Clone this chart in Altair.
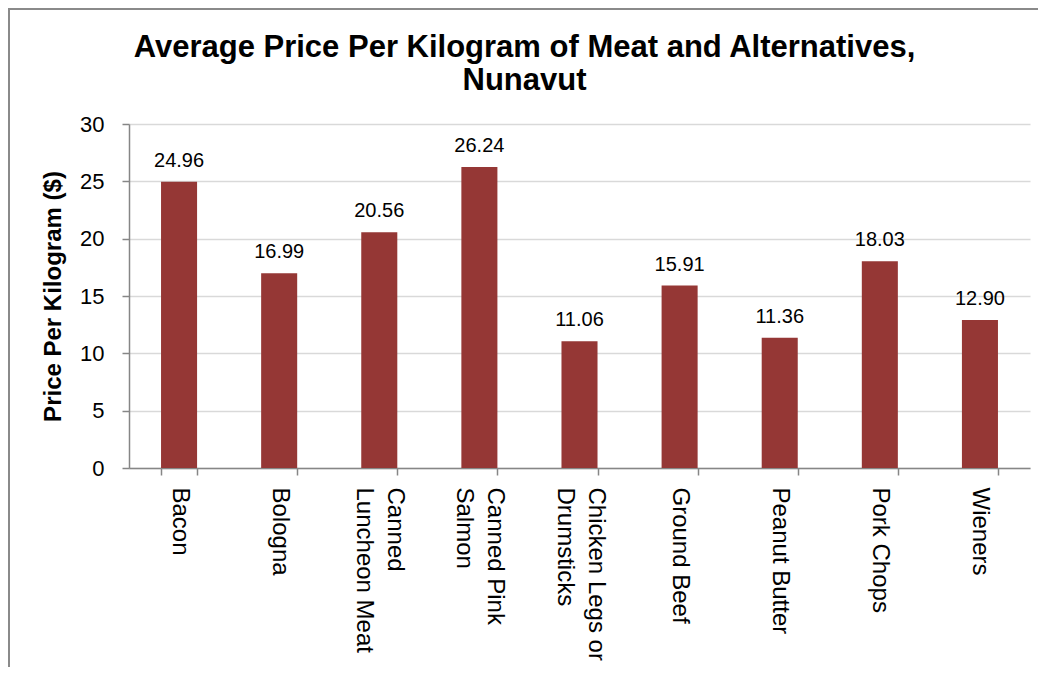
import altair as alt
import pandas as pd

categories = ["Bacon", "Bologna", "Canned Luncheon Meat", "Canned Pink Salmon",
              "Chicken Legs or Drumsticks", "Ground Beef", "Peanut Butter",
              "Pork Chops", "Wieners"]
prices = [24.96, 16.99, 20.56, 26.24, 11.06, 15.91, 11.36, 18.03, 12.90]
label_lines = {
    "Canned Luncheon Meat": ["Canned", "Luncheon Meat"],
    "Canned Pink Salmon": ["Canned Pink", "Salmon"],
    "Chicken Legs or Drumsticks": ["Chicken Legs or", "Drumsticks"],
}
y_ticks = [0, 5, 10, 15, 20, 25, 30]

df = pd.DataFrame({"item": categories, "price": prices})

expr = "datum.label"
for k, v in label_lines.items():
    arr = "[" + ",".join("'" + s + "'" for s in v) + "]"
    expr = f"datum.label == '{k}' ? {arr} : ({expr})"
multi = "[" + ",".join("'" + k + "'" for k in label_lines) + "]"

FONT = "Liberation Sans"
W, H = 901, 344
LH = 31

x_enc = alt.X(
    "item:N", sort=categories, title=None,
    scale=alt.Scale(paddingInner=0.64, paddingOuter=0.32),
    axis=alt.Axis(labelAngle=90, labelAlign="left", labelBaseline="middle",
                  labelExpr=expr, labelFont=FONT, labelFontSize=24,
                  labelColor="#000000", labelLineHeight=LH, labelPadding=12,
                  labelOffset={"condition": {"test": f"indexof({multi}, datum.value) >= 0",
                                             "value": LH / 2},
                               "value": 0},
                  tickBand="extent", tickSize=7, tickColor="#868686",
                  tickWidth=1.5, domainColor="#868686", domainWidth=1.5,
                  grid=False, labelLimit=400),
)
y_enc = alt.Y(
    "price:Q", title="Price Per Kilogram ($)",
    scale=alt.Scale(domain=[0, 30], nice=False),
    axis=alt.Axis(values=y_ticks, labelFont=FONT, labelFontSize=22,
                  labelColor="#000000", labelPadding=18, tickSize=7,
                  tickColor="#868686", tickWidth=1.5, domainColor="#868686",
                  domainWidth=1.5, gridColor="#d9d9d9", gridWidth=1.5,
                  titleFont=FONT, titleFontSize=24, titleFontWeight="bold",
                  titleColor="#000000", titlePadding=14),
)

bars = alt.Chart(df).mark_bar(color="#953735").encode(x=x_enc, y=y_enc)
labels = alt.Chart(df).mark_text(
    font=FONT, fontSize=20, color="#000000", baseline="alphabetic", dy=-15
).encode(x=alt.X("item:N", sort=categories), y="price:Q",
         text=alt.Text("price:Q", format=".2f"))

frame = alt.Chart(pd.DataFrame({"f": [0]})).mark_rect(
    fill=None, stroke="#8a8a8a", strokeWidth=2
).encode(x=alt.value(-120), x2=alt.value(W + 20),
         y=alt.value(-115), y2=alt.value(H + 220))

chart = alt.layer(frame, bars, labels).properties(
    width=W, height=H,
    autosize=alt.AutoSizeParams(type="none"),
    padding={"left": 121, "right": 8, "top": 116, "bottom": 199},
    title=alt.TitleParams(
        ["Average Price Per Kilogram of Meat and Alternatives,", "Nunavut"],
        font=FONT, fontSize=31, fontWeight="bold", color="#000000",
        anchor="middle", lineHeight=33, offset=18, dx=-55, dy=107),
).configure_view(stroke=None)

chart.save("out.html", embed_options={"renderer": "svg", "actions": False})
